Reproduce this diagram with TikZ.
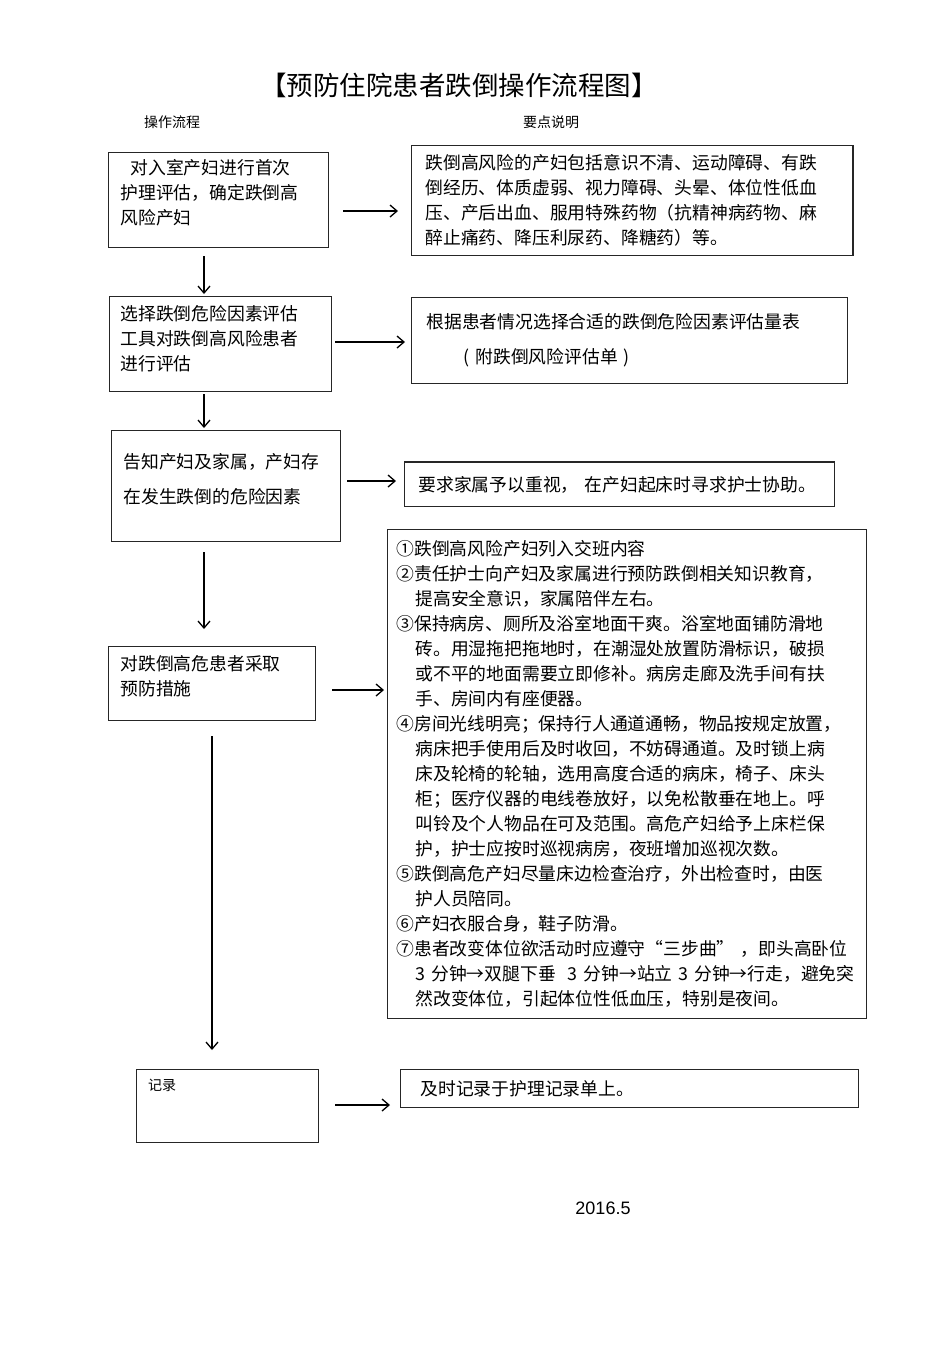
\documentclass[tikz,border=0pt]{standalone}
\usepackage{fontspec}
\setmainfont{Noto Sans CJK SC}
\newfontfamily\arialf{Liberation Sans}
\usetikzlibrary{arrows.meta}
\begin{document}
\begin{tikzpicture}[x=1pt,y=-1pt,
  box/.style={draw=black!85, line width=1.1pt, anchor=north west, align=left,
    font=\fontsize{17.8}{25}\selectfont},
  arr/.style={-{Straight Barb[length=7pt,width=12pt]}, line width=1.3pt}]
\useasboundingbox[fill=white] (0,0) rectangle (950,1345);

\node[font=\fontsize{26.5}{30}\selectfont] (title) at (459,85) {【预防住院患者跌倒操作流程图】};
\node[font=\fontsize{14}{16}\selectfont] (h1) at (172,122) {操作流程};
\node[font=\fontsize{14}{16}\selectfont] (h2) at (551,122) {要点说明};

\node[box, minimum width=220pt, minimum height=95pt, inner xsep=12pt, text width=196pt] (L1) at (108,152)
  {\hspace{10pt}对入室产妇进行首次\\护理评估，确定跌倒高\\风险产妇\rule[-16pt]{0pt}{0pt}};
\node[box, minimum width=441pt, minimum height=110pt, inner xsep=14pt, text width=413pt] (R1) at (411,145)
  {跌倒高风险的产妇包括意识不清、运动障碍、有跌\\倒经历、体质虚弱、视力障碍、头晕、体位性低血\\压、产后出血、服用特殊药物（抗精神病药物、麻\\醉止痛药、降压利尿药、降糖药）等。};
\draw[line width=2.4pt, black!85] (R1.north east) -- (R1.south east);

\node[box, minimum width=222pt, minimum height=95pt, inner xsep=11pt, text width=200pt] (L2) at (109,296)
  {选择跌倒危险因素评估\\工具对跌倒高风险患者\\进行评估\rule[-12pt]{0pt}{0pt}};
\node[box, minimum width=436pt, minimum height=86pt, inner xsep=15pt, text width=406pt] (R2) at (411,297)
  {根据患者情况选择合适的跌倒危险因素评估量表\\[10pt]\hspace{37pt}( 附跌倒风险评估单 )};

\node[box, minimum width=229pt, minimum height=111pt, inner xsep=12pt, text width=205pt] (L3) at (111,430)
  {告知产妇及家属，产妇存\\[10pt]在发生跌倒的危险因素\rule[-16pt]{0pt}{0pt}};
\node[box, minimum width=430pt, minimum height=44pt, inner xsep=14pt, text width=402pt] (R3) at (404,462)
  {要求家属予以重视，~在产妇起床时寻求护士协助。};
\draw[line width=2.4pt, black!85] (R3.north west) -- (R3.north east);

\node[box, minimum width=207pt, minimum height=74pt, inner xsep=12pt, text width=183pt] (L4) at (108,646)
  {对跌倒高危患者采取\\预防措施\rule[-16pt]{0pt}{0pt}};
\node[box, minimum width=479pt, minimum height=489pt, inner xsep=9pt, text width=461pt] (R4) at (387,529)
  {①跌倒高风险产妇列入交班内容\\
   ②责任护士向产妇及家属进行预防跌倒相关知识教育，\\
   \hspace{19pt}提高安全意识，家属陪伴左右。\\
   ③保持病房、厕所及浴室地面干爽。浴室地面铺防滑地\\
   \hspace{19pt}砖。用湿拖把拖地时，在潮湿处放置防滑标识，破损\\
   \hspace{19pt}或不平的地面需要立即修补。病房走廊及洗手间有扶\\
   \hspace{19pt}手、房间内有座便器。\\
   ④房间光线明亮；保持行人通道通畅，物品按规定放置，\\
   \hspace{19pt}病床把手使用后及时收回，不妨碍通道。及时锁上病\\
   \hspace{19pt}床及轮椅的轮轴，选用高度合适的病床，椅子、床头\\
   \hspace{19pt}柜；医疗仪器的电线卷放好，以免松散垂在地上。呼\\
   \hspace{19pt}叫铃及个人物品在可及范围。高危产妇给予上床栏保\\
   \hspace{19pt}护，护士应按时巡视病房，夜班增加巡视次数。\\
   ⑤跌倒高危产妇尽量床边检查治疗，外出检查时，由医\\
   \hspace{19pt}护人员陪同。\\
   ⑥产妇衣服合身，鞋子防滑。\\
   ⑦患者改变体位欲活动时应遵守“三步曲”~，即头高卧位\\
   \hspace{19pt}\mbox{3~分钟→双腿下垂~~3~分钟→站立~3~分钟→行走，避免突}\\
   \hspace{19pt}然改变体位，引起体位性低血压，特别是夜间。};

\node[box, minimum width=182pt, minimum height=73pt] (L5) at (136,1069) {};
\node[font=\fontsize{14}{16}\selectfont, anchor=north west, inner sep=0pt] (L5t) at ([shift={(12,10)}]L5.north west) {记录};
\node[box, minimum width=458pt, minimum height=38pt, inner xsep=20pt, text width=418pt] (R5) at (400,1069)
  {及时记录于护理记录单上。};

\node[font=\arialf\fontsize{18}{20}\selectfont] (date) at (603,1208) {2016.5};

% vertical arrows
\draw[arr] ([shift={(96,8)}]L1.south west) -- ([shift={(95,-2)}]L2.north west);
\draw[arr] ([shift={(95,2)}]L2.south west) -- ([shift={(93,-2)}]L3.north west);
\draw[arr] ([shift={(93,10)}]L3.south west) -- ([shift={(96,-17)}]L4.north west);
\draw[arr] ([shift={(104,15)}]L4.south west) -- ([shift={(76,-19)}]L5.north west);

% horizontal arrows
\draw[arr] ([shift={(14,59)}]L1.north east) -- ([shift={(-13,66)}]R1.north west);
\draw[arr] ([shift={(3,46)}]L2.north east) -- ([shift={(-6,45)}]R2.north west);
\draw[arr] ([shift={(6,51)}]L3.north east) -- ([shift={(-8,19)}]R3.north west);
\draw[arr] ([shift={(16,44)}]L4.north east) -- ([shift={(-3,161)}]R4.north west);
\draw[arr] ([shift={(16,36)}]L5.north east) -- ([shift={(-10,36)}]R5.north west);
\end{tikzpicture}
\end{document}
